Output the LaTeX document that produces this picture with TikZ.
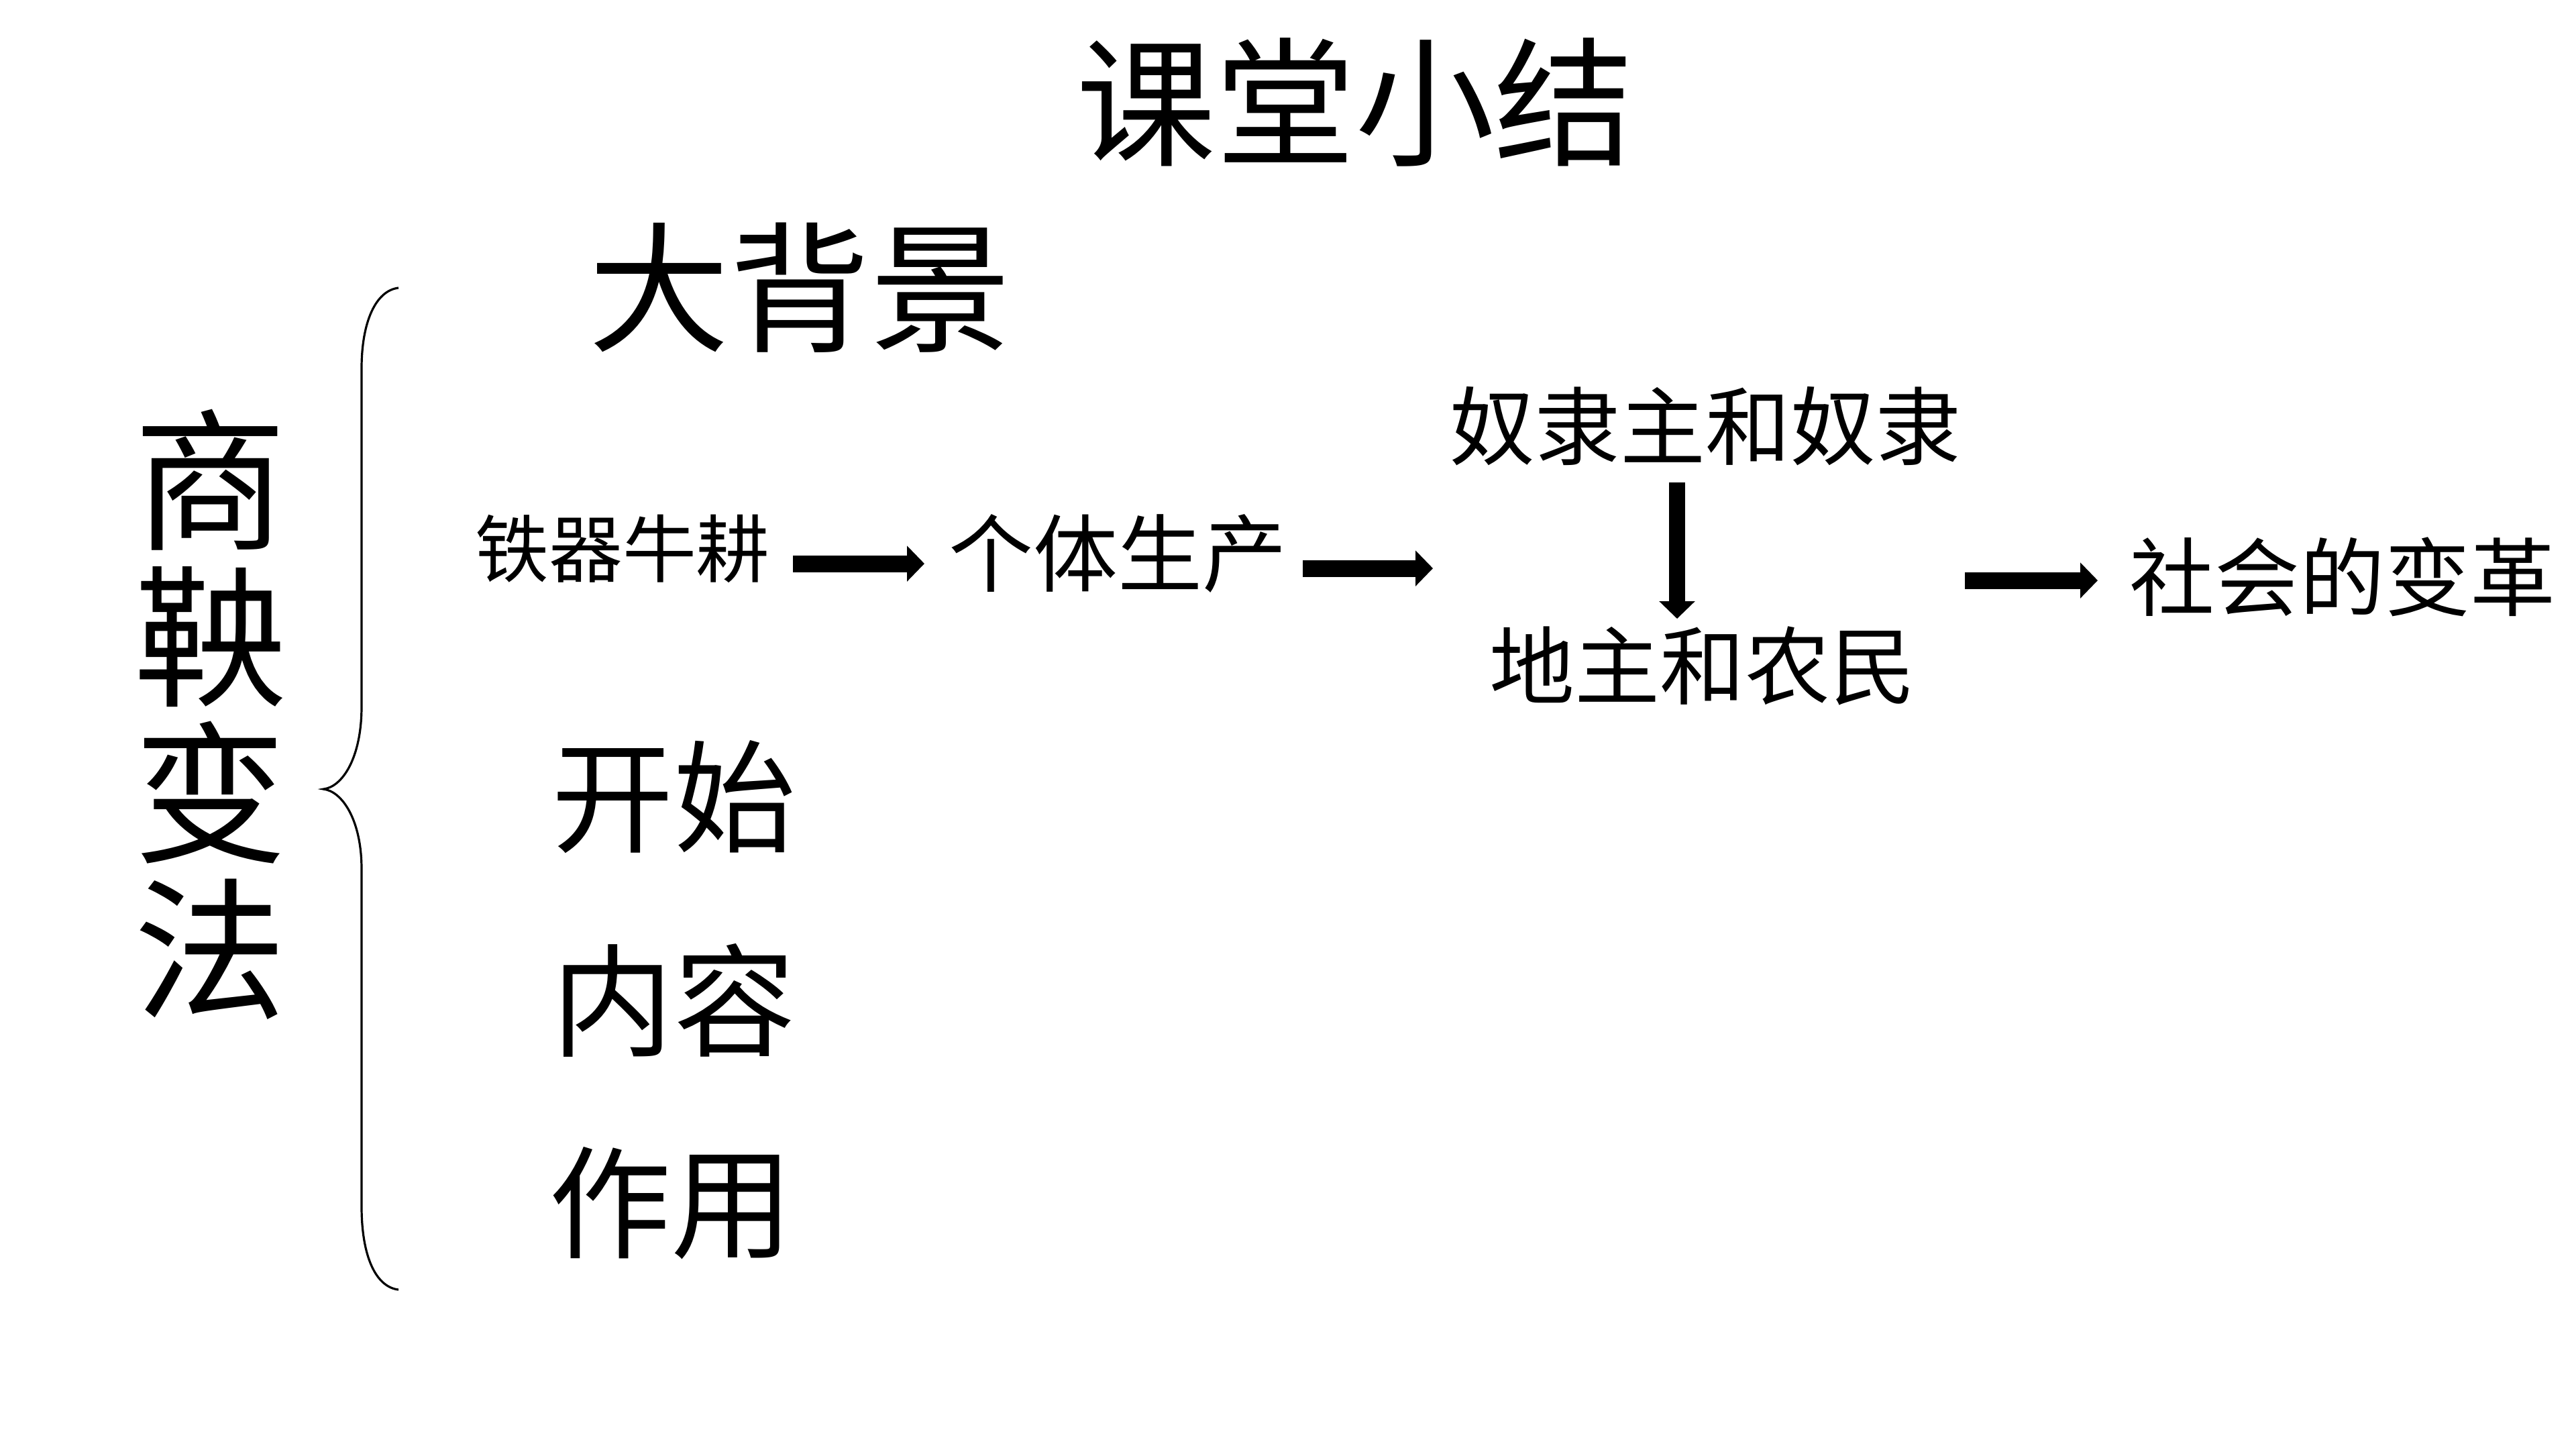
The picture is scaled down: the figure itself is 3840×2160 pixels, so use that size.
\documentclass[tikz,border=0pt]{standalone}
\usepackage{fontspec}
\newfontfamily\cjk{Noto Sans CJK SC}
\usetikzlibrary{arrows.meta}
\tikzset{
  txt/.style={inner sep=0pt, outer sep=0pt, font=\cjk},
  bigarrow/.style={line width=2.5pt, -{Triangle[length=2.6pt, width=5.2pt]}},
  bracepath/.style={line width=0.32pt}
}
\newcommand{\fs}[1]{\fontsize{#1}{#1}\selectfont}
\begin{document}
\begin{tikzpicture}[x=0.1pt, y=-0.1pt]
\useasboundingbox[fill=white] (0,0) rectangle (3840,2160);
% title
\node[txt] (title) at (2020,152) {\fs{20.8pt}课堂小结};
% vertical label
\node[txt, align=center, font=\cjk\fontsize{22.8pt}{23.3pt}\selectfont] (shang) at (313,1065) {商\\鞅\\变\\法};
% brace
\draw[bracepath] (594,429) .. controls (560,433) and (539,480) .. (539,549) -- (539,1053)
  .. controls (539,1130) and (510,1173) .. (482,1176)
  .. controls (510,1179) and (539,1222) .. (539,1295) -- (539,1798)
  .. controls (539,1872) and (560,1918) .. (594,1922);
% headings
\node[txt] (bg) at (1192,429) {\fs{21pt}大背景};
\node[txt] (ks) at (1004,1188) {\fs{18.2pt}开始};
\node[txt] (nr) at (1004,1491) {\fs{18.2pt}内容};
\node[txt] (zy) at (1000,1793) {\fs{18.2pt}作用};
% chain
\node[txt] (tq) at (928,818) {\fs{11pt}铁器牛耕};
\node[txt] (gt) at (1666,825) {\fs{12.6pt}个体生产};
\node[txt] (nl) at (2542,635) {\fs{12.7pt}奴隶主和奴隶};
\node[txt] (dz) at (2538,992) {\fs{12.7pt}地主和农民};
\node[txt] (sh) at (3492,860) {\fs{12.7pt}社会的变革};
% arrow end points
\coordinate (a1s) at (1182,840); \coordinate (a1e) at (1378,840);
\coordinate (a2s) at (1942,847); \coordinate (a2e) at (2136,847);
\coordinate (a3s) at (2500,719); \coordinate (a3e) at (2500,922);
\coordinate (a4s) at (2929,865); \coordinate (a4e) at (3127,865);
\draw[bigarrow] (a1s) -- (a1e);
\draw[bigarrow] (a2s) -- (a2e);
\draw[bigarrow, line width=2.4pt] (a3s) -- (a3e);
\draw[bigarrow] (a4s) -- (a4e);
\end{tikzpicture}
\end{document}
